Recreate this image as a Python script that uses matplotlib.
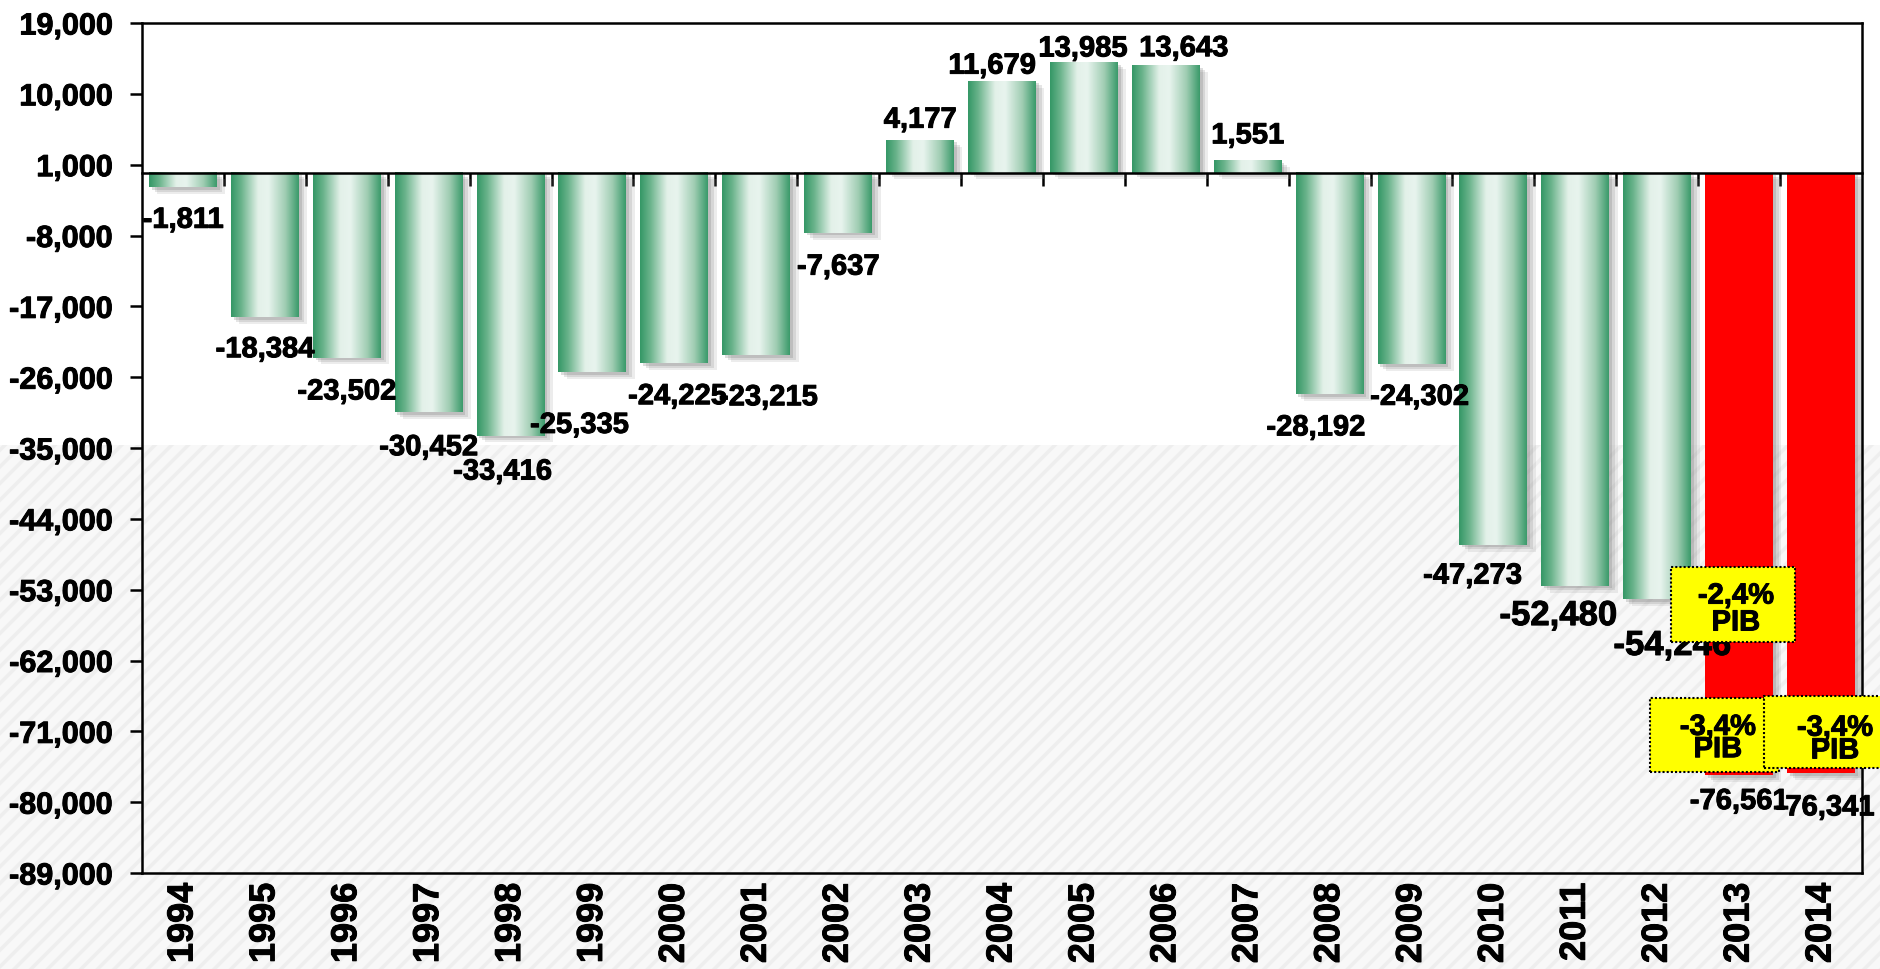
import matplotlib
matplotlib.use("Agg")
import matplotlib.pyplot as plt
import numpy as np
from matplotlib.colors import LinearSegmentedColormap
from matplotlib.patches import Rectangle
import matplotlib.patheffects as pe

plt.rcParams['font.family'] = ['Liberation Sans', 'DejaVu Sans']
plt.rcParams['font.weight'] = 'bold'
plt.rcParams['hatch.linewidth'] = 2.5

# datos
anos = [str(a) for a in range(1994, 2015)]
saldo = [-1811, -18384, -23502, -30452, -33416, -25335, -24225, -23215, -7637,
         4177, 11679, 13985, 13643, 1551, -28192, -24302, -47273, -52480,
         -54246, -76561, -76341]
previsao = [False] * 19 + [True, True]   # 2013 e 2014 a vermelho
etiquetas = [f"{v:,}" for v in saldo]

# caixas amarelas (% do PIB)
pib_txt = ['-2,4%\nPIB', '-3,4%\nPIB', '-3,4%\nPIB']
pib_caixa = [(18.17, -59650, 1.51, 9530), (17.91, -76170, 1.58, 9400), (19.30, -75660, 1.48, 9150)]
pib_centro = [(18.96, -55460), (18.74, -71850), (20.17, -71980)]
pib_esp = [0.95, 0.74, 0.76]

# deslocamento das etiquetas (px)
dx = [0, 0, 0, 0, -8, -13, 3, 12, 0, 0, -10, -1, 18, 0, -14, 8, -21, -17, 15, 0, 4]
dy = [33, 32, 34, 35, 36, 53, 33, 42, 34, -20, -15, -14, -17, -25, 33, 33, 31, 30, 46, 26, 34]
tam = [21] * 21
tam[17] = 25
tam[18] = 25

negrito = [pe.withStroke(linewidth=0.7, foreground='black')]

fig = plt.figure(figsize=(18.81, 9.70), dpi=100)
fig.patch.set_facecolor('white')
# fundo riscado na metade de baixo
fig.patches.append(Rectangle((0, 0), 1, 1 - 446 / 970, transform=fig.transFigure,
                             facecolor='#f8f8f8', edgecolor='#eeeeee', hatch='//',
                             linewidth=0, zorder=-10))

ax = fig.add_axes([142 / 1881, 1 - 874 / 970, (1862 - 142) / 1881, (874 - 24) / 970])
ax.set_facecolor('none')

verde = LinearSegmentedColormap.from_list('verde', [
    (0.0, '#349766'), (0.15, '#6ab38b'), (0.40, '#e3f1e9'), (0.55, '#e8f4ee'),
    (0.80, '#a0cdb3'), (1.0, '#3a9a6a')])
grad = np.linspace(0, 1, 256).reshape(1, -1)

larg = 0.83
x = np.arange(len(anos))
sombra = [pe.SimplePatchShadow(offset=(6, -5), shadow_rgbFace='#9a9a9a', alpha=0.18),
          pe.SimplePatchShadow(offset=(4, -3.5), shadow_rgbFace='#8a8a8a', alpha=0.22),
          pe.SimplePatchShadow(offset=(2, -2), shadow_rgbFace='#7a7a7a', alpha=0.25),
          pe.Normal()]
cores = ['#ff0000' if p else '#3a9a6a' for p in previsao]
barras = ax.bar(x, saldo, width=larg, color=cores, zorder=2)
for b in barras:
    b.set_path_effects(sombra)

for i, v in enumerate(saldo):
    if previsao[i]:
        continue
    ax.imshow(grad, cmap=verde, aspect='auto', interpolation='bicubic',
              extent=(i - larg / 2, i + larg / 2, min(v, 0), max(v, 0)), zorder=3)

for i, v in enumerate(saldo):
    ax.annotate(etiquetas[i], (i, v), xytext=(dx[i] * 0.72, -dy[i] * 0.72),
                textcoords='offset points', ha='center', va='center',
                fontsize=tam[i], fontweight='bold', zorder=5, path_effects=negrito)

for k in range(len(pib_txt)):
    x0, y0, w, h = pib_caixa[k]
    ax.add_patch(Rectangle((x0, y0), w, h, facecolor='#ffff00', edgecolor='black',
                           linestyle=(0, (1, 1)), linewidth=1.5, zorder=6 + k, clip_on=False))
    ax.text(pib_centro[k][0], pib_centro[k][1], pib_txt[k], ha='center', va='center',
            fontsize=21, fontweight='bold', linespacing=pib_esp[k], zorder=6 + k,
            clip_on=False, path_effects=negrito)

ax.set_xlim(-0.5, len(anos) - 0.5)
ax.set_ylim(-89000, 19000)
marcas = np.arange(-89000, 19001, 9000)
ax.set_yticks(marcas)
ax.set_yticklabels([f"{t:,}" for t in marcas])
ax.tick_params(axis='y', labelsize=22, length=9, width=1.8, pad=12)
for t in ax.get_yticklabels():
    t.set_path_effects(negrito)

# eixo horizontal em zero com marcas entre categorias
ax.spines['bottom'].set_position(('data', 0))
ax.set_xticks(x)
ax.set_xticklabels([])
ax.tick_params(axis='x', which='major', length=0)
ax.set_xticks(x[:-1] + 0.5, minor=True)
ax.tick_params(axis='x', which='minor', length=9, width=1.8, direction='out')

sec = ax.secondary_xaxis('bottom')
sec.set_xticks(x)
sec.set_xticklabels(anos, rotation=90, fontsize=26, fontweight='bold')
sec.tick_params(length=0, pad=7)
sec.spines['bottom'].set_linewidth(1.8)
for t in sec.get_xticklabels():
    t.set_path_effects(negrito)

for s in ['left', 'right', 'top', 'bottom']:
    ax.spines[s].set_linewidth(1.8)
ax.spines['bottom'].set_zorder(4)

fig.savefig('out.png', dpi=100)
